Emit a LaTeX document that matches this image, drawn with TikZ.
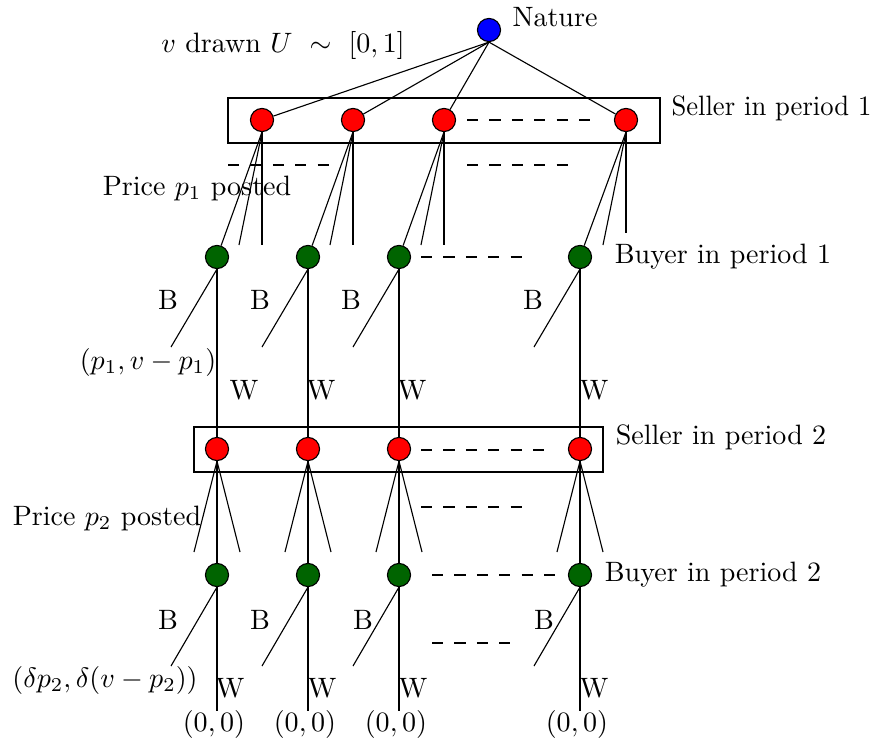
\documentclass[tikz,border=0pt]{standalone}
\usepackage{amsfonts}
\usepackage{amsmath}
\usepackage{amssymb}
\usepackage{tikz}
\usepackage{xcolor}
\definecolor{buyergreen}{RGB}{0,100,0}

\begin{document}
\begin{tikzpicture}[x=0.01255cm,y=-0.01255cm,
  move/.style={circle,draw,inner sep=0pt,minimum size=0.29cm},
  nature/.style={move,fill=blue},
  seller/.style={move,fill=red},
  buyer/.style={move,fill=buyergreen},
  info/.style={dash pattern=on 4pt off 4pt}]
  \useasboundingbox (0,0) rectangle (875,742);
  \draw (228,98) rectangle (660,143);
  \draw (194,427) rectangle (603,472);
  \node[nature] (nat) at (489,30) {};
  \node (natlbl) at (555,17) {Nature};
  \node (drawlbl) at (283,45) {$v$ drawn $U\ \sim\ [0,1]$};
  \foreach \n/\x in {a/262,b/353,c/444,d/626} {
    \node[seller] (s1\n) at (\x,120) {};
    \draw (nat.south) -- (s1\n);
  }
  \foreach \n/\x in {a/217,b/308,c/399,d/580} {
    \node[buyer] (b1\n) at (\x,257) {};
    \node[seller] (s2\n) at (\x,449) {};
    \node[buyer] (b2\n) at (\x,575) {};
  }
  \foreach \n/\x/\y in {a/262/245,b/353/245,c/444/245,d/626/233} {
    \coordinate (f1\n) at (\x-23,245);
    \coordinate (g1\n) at (\x,\y);
    \draw (s1\n.south) -- (b1\n);
    \draw (s1\n.south) -- (f1\n);
    \draw (s1\n.south) -- (g1\n);
  }
  \foreach \n/\x/\bx/\wx in {a/217/168/244,b/308/260/321,c/399/351/412,d/580/533/594} {
    \coordinate (t1\n) at (\x-46,347);
    \draw (b1\n.south) -- (t1\n);
    \draw (b1\n.south) -- (s2\n.north);
    \node (bl1\n) at (\bx,300) {B};
    \node (wl1\n) at (\wx,390) {W};
  }
  \foreach \n/\x in {a/217,b/308,c/399,d/580} {
    \coordinate (l2\n) at (\x-23,552);
    \coordinate (r2\n) at (\x+23,552);
    \draw (s2\n.south) -- (l2\n);
    \draw (s2\n.south) -- (r2\n);
    \draw (s2\n.south) -- (b2\n.north);
  }
  \foreach \n/\x/\bx/\wx in {a/217/168/230,b/308/260/322,c/399/363/413,d/580/544/594} {
    \coordinate (t2\n) at (\x-46,666);
    \coordinate (z2\n) at (\x,711);
    \draw (b2\n.south) -- (t2\n);
    \draw (b2\n.south) -- (z2\n);
    \node (bl2\n) at (\bx,620) {B};
    \node (wl2\n) at (\wx,688) {W};
    \node (pay\n) at (\x-3,724) {$(0,0)$};
  }
  \draw[info] (467,120) -- (592,120);
  \draw[info] (228,165) -- (332,165);
  \draw[info] (467,165) -- (570,165);
  \draw[info] (421,257) -- (525,257);
  \draw[info] (421,450) -- (547,450);
  \draw[info] (421,507) -- (523,507);
  \draw[info] (432,575) -- (557,575);
  \draw[info] (432,643) -- (512,643);
  \node[anchor=west,inner sep=0pt] (sel1lbl) at (671,108) {\scalebox{0.95}[1]{Seller in period 1}};
  \node (buy1lbl) at (723,257) {Buyer in period 1};
  \node (sel2lbl) at (721,437) {Seller in period 2};
  \node (buy2lbl) at (713,575) {Buyer in period 2};
  \node (price1) at (197,188) {Price $p_1$ posted};
  \node (price2) at (107,518) {Price $p_2$ posted};
  \node (pay1) at (148,362) {$(p_1,v-p_1)$};
  \node (pay2) at (105,680) {$(\delta p_2,\delta(v-p_2))$};
\end{tikzpicture}
\end{document}
